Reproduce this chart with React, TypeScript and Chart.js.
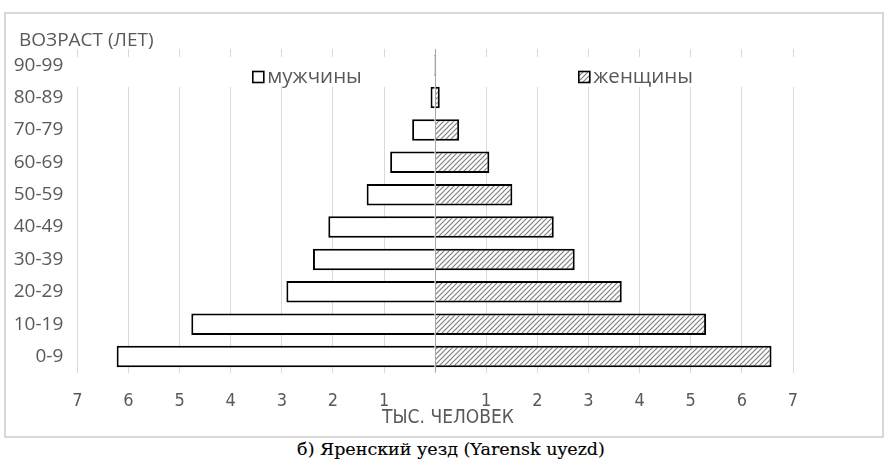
import React, { useEffect, useRef } from 'react';
import { Chart, registerables } from 'chart.js';

Chart.register(...registerables);

// ---- data (thousand people) ----
const ageGroups = ['0-9', '10-19', '20-29', '30-39', '40-49', '50-59', '60-69', '70-79', '80-89', '90-99'];
const menThousands = [6.23, 4.77, 2.91, 2.39, 2.09, 1.34, 0.88, 0.45, 0.09, 0.02];
const womenThousands = [6.58, 5.3, 3.65, 2.73, 2.32, 1.51, 1.06, 0.47, 0.09, 0.02];
const seriesLabels = ['мужчины', 'женщины'];
const xAxisMin = -7;
const xAxisMax = 7;
const yAxisTitle = 'ВОЗРАСТ (ЛЕТ)';
const xAxisTitle = 'ТЫС. ЧЕЛОВЕК';
const caption = 'б) Яренский уезд (Yarensk uyezd)';

const TEXT = '#595959';
const WIDE_FONT = "'Open Sans', 'DejaVu Sans', sans-serif";
const NARROW_FONT = "'Liberation Sans Narrow', 'DejaVu Sans Condensed', 'Roboto Condensed', 'Open Sans', sans-serif";

function makeHatch(ctx: CanvasRenderingContext2D): CanvasPattern | string {
  const size = 5;
  const pc = document.createElement('canvas');
  pc.width = size;
  pc.height = size;
  const p = pc.getContext('2d');
  if (!p) return '#bbb';
  p.fillStyle = '#ffffff';
  p.fillRect(0, 0, size, size);
  p.strokeStyle = '#808080';
  p.lineWidth = 1.2;
  for (const k of [-size, 0, size]) {
    p.beginPath();
    p.moveTo(k - 1, size + 1);
    p.lineTo(k + size + 1, -1);
    p.stroke();
  }
  return ctx.createPattern(pc, 'repeat') || '#bbb';
}

export default function App() {
  const canvasRef = useRef<HTMLCanvasElement | null>(null);

  useEffect(() => {
    const canvas = canvasRef.current;
    if (!canvas) return;
    const ctx = canvas.getContext('2d');
    if (!ctx) return;
    const hatch = makeHatch(ctx);

    const overlayPlugin = {
      id: 'excelOverlay',
      beforeDatasetsDraw(chart: any) {
        const { ctx: c, chartArea } = chart;
        // legend band covering gridlines
        c.save();
        c.fillStyle = '#ffffff';
        c.fillRect(chartArea.left - 1, chartArea.top + 8, chartArea.right - chartArea.left + 2, 30);
        c.restore();
      },
      afterDatasetsDraw(chart: any) {
        const { ctx: c, chartArea, scales } = chart;
        const x0 = Math.round(scales.x.getPixelForValue(0)) + 0.5;
        c.save();
        c.strokeStyle = '#a6a6a6';
        c.lineWidth = 1;
        c.beginPath();
        c.moveTo(x0, chartArea.top);
        c.lineTo(x0, chartArea.bottom);
        c.stroke();
        c.restore();
      },
      afterDraw(chart: any) {
        const { ctx: c, chartArea } = chart;
        c.save();
        // y axis title
        c.font = `19px ${WIDE_FONT}`;
        c.textBaseline = 'middle';
        c.textAlign = 'left';
        c.fillStyle = TEXT;
        c.fillText(yAxisTitle, 13, chartArea.top - 8);
        // legend
        const ly = chartArea.top + 28;
        const items = [
          { x: chartArea.left + 175, fill: '#ffffff', label: chart.data.datasets[0].label },
          { x: chartArea.left + 501, fill: hatch, label: chart.data.datasets[1].label },
        ];
        c.font = `20.5px ${WIDE_FONT}`;
        for (const it of items) {
          c.fillStyle = it.fill as any;
          c.fillRect(it.x, ly - 6, 12, 12);
          c.strokeStyle = '#000';
          c.lineWidth = 1.6;
          c.strokeRect(it.x + 0.5, ly - 5.5, 11, 11);
          c.fillStyle = TEXT;
          c.fillText(it.label, it.x + 15, ly);
        }
        // x axis title
        c.font = `19px ${NARROW_FONT}`;
        c.textAlign = 'center';
        c.fillStyle = TEXT;
        c.fillText(xAxisTitle, chart.width / 2 + 4, chartArea.bottom + 45);
        c.restore();
      },
    };

    const chart = new Chart(ctx, {
      type: 'bar',
      data: {
        labels: ageGroups,
        datasets: [
          {
            label: seriesLabels[0],
            data: menThousands.map((v) => -v),
            backgroundColor: '#ffffff',
            borderColor: '#000000',
            borderWidth: 2,
            borderSkipped: 'start',
            barPercentage: 0.667,
            categoryPercentage: 1,
          },
          {
            label: seriesLabels[1],
            data: womenThousands,
            backgroundColor: hatch as any,
            borderColor: '#000000',
            borderWidth: 2,
            borderSkipped: 'start',
            barPercentage: 0.667,
            categoryPercentage: 1,
          },
        ],
      },
      options: {
        indexAxis: 'y',
        responsive: false,
        maintainAspectRatio: false,
        animation: false,
        events: [],
        layout: { padding: { left: 0, right: 89, top: 35, bottom: 0 } },
        plugins: {
          legend: { display: false },
          tooltip: { enabled: false },
          title: { display: false },
        },
        scales: {
          x: {
            stacked: true,
            min: xAxisMin,
            max: xAxisMax,
            ticks: {
              stepSize: 1,
              color: TEXT,
              font: { family: NARROW_FONT, size: 18 },
              padding: 18,
              callback: (v: any) => (Number(v) === 0 ? '' : String(Math.abs(Number(v)))),
            },
            grid: {
              color: (c: any) => (c.tick && c.tick.value === 0 ? 'rgba(0,0,0,0)' : '#d9d9d9'),
              lineWidth: 1,
              drawTicks: false,
            },
            border: { display: false },
            afterFit: (s: any) => {
              s.height = 63.25;
            },
          },
          y: {
            stacked: true,
            reverse: true,
            ticks: {
              color: TEXT,
              font: { family: WIDE_FONT, size: 19 },
              padding: 14,
            },
            grid: { display: false, drawTicks: false },
            border: { display: false },
            afterFit: (s: any) => {
              s.width = 71.3;
            },
          },
        },
      },
      plugins: [overlayPlugin],
    } as any);

    return () => chart.destroy();
  }, []);

  return (
    <div style={{ position: 'absolute', left: 0, top: 0, width: 891, height: 462, background: '#fff' }}>
      <div
        style={{
          position: 'absolute',
          left: 4,
          top: 12,
          width: 880,
          height: 426,
          border: '2px solid #d9d9d9',
          boxSizing: 'border-box',
        }}
      >
        <canvas ref={canvasRef} width={876} height={422} style={{ display: 'block', width: 876, height: 422 }} />
      </div>
      <div
        style={{
          position: 'absolute',
          left: 0,
          top: 438,
          width: 891,
          paddingLeft: 11,
          boxSizing: 'border-box',
          textAlign: 'center',
          fontFamily: "'DejaVu Serif', 'Liberation Serif', serif",
          fontSize: 17.5,
          lineHeight: '22px',
          color: '#000',
          WebkitTextStroke: '0.15px #000',
        }}
      >
        {caption}
      </div>
    </div>
  );
}
